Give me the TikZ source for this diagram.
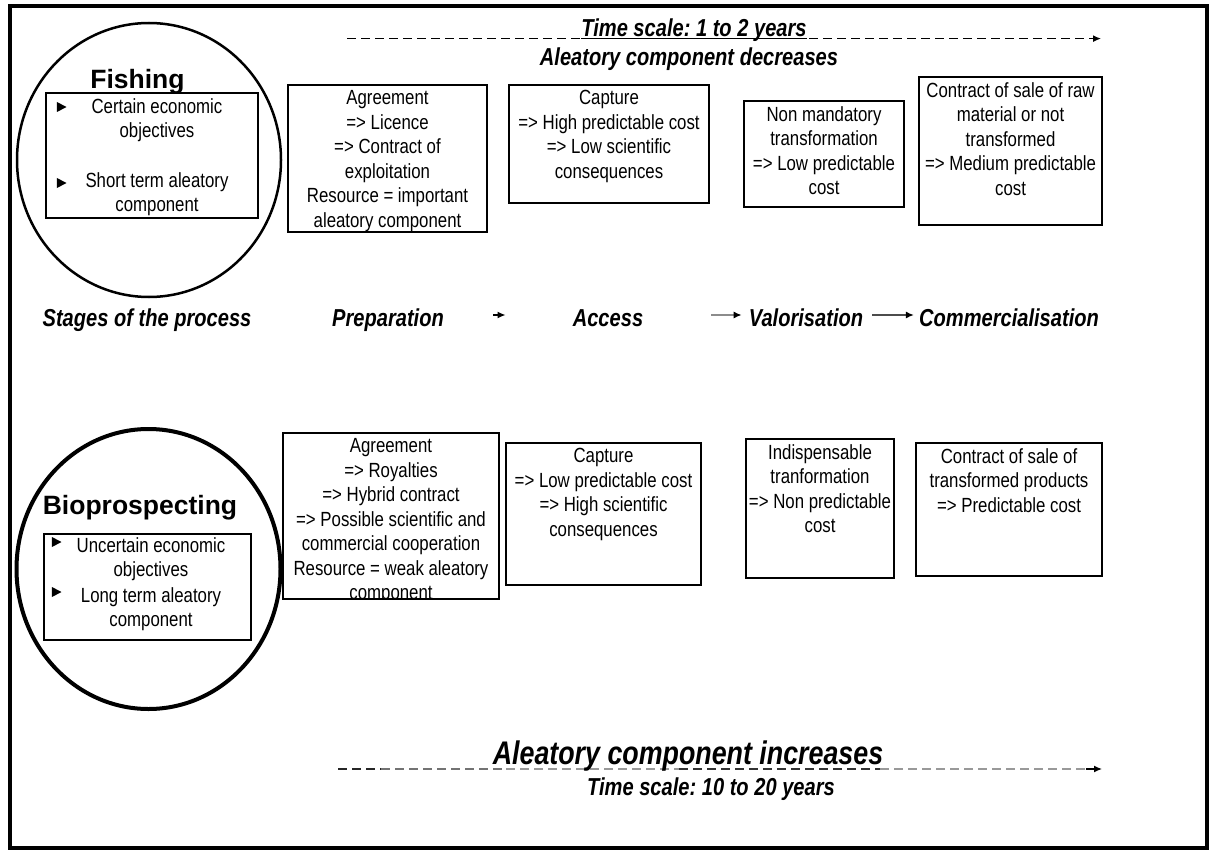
\documentclass[tikz,border=0pt]{standalone}
\usepackage{fontspec}
\setmainfont{Liberation Sans}[FakeStretch=0.82]
\newfontfamily\titlefont{Liberation Sans}
\usetikzlibrary{shapes.geometric, arrows.meta}
\frenchspacing

\begin{document}
\begin{tikzpicture}[
                x = 1pt, y = -1pt,
                box/.style = {draw, line width = 1.3pt, inner sep = 0pt},
                boxtext/.style = {anchor = north, yshift = -6pt, align = center, inner sep = 0pt,
                    font = \fontsize{20.5}{24.5}\selectfont, execute at begin node = \strut},
                circ/.style = {draw, ellipse, inner sep = 0pt},
                title/.style = {font = \titlefont\bfseries\fontsize{26.5}{30}\selectfont,
                    inner sep = 0pt, text height = 19pt, text depth = 0pt},
                stage/.style = {font = \bfseries\itshape\fontsize{24.5}{28}\selectfont,
                    inner sep = 0pt, text height = 17.5pt, text depth = 0pt},
                bigstage/.style = {font = \bfseries\itshape\fontsize{32.7}{36}\selectfont,
                    inner sep = 0pt, text height = 23.4pt, text depth = 0pt},
                bullet/.style = {isosceles triangle, isosceles triangle stretches, fill,
                    inner sep = 0pt, minimum width = 10pt, minimum height = 9.5pt},
                arr/.style = {draw, line width = 1.5pt, -{Latex[length = 8pt, width = 7pt, color = black]}},
                timeline/.style = {arr, line width = 1.3pt, dash pattern = on 9pt off 5pt},
            ]
            \useasboundingbox (0, 0) rectangle (1214, 853);
            \draw[line width = 3.8pt] (10, 6) rectangle (1207, 848);

            \node (C1) at (149, 160) [circ, line width = 2.5pt, minimum width = 264pt, minimum height = 274pt] {};
            \node (T1) at (137.5, 79) [title] {Fishing};
            \node (L1) at (152, 155.5) [box, minimum width = 212pt, minimum height = 125pt] {};
            \node (L1a) at (157, 96.2) [boxtext, yshift = 4pt] {Certain economic\\objectives};
            \node (L1b) at (157, 170.2) [boxtext, yshift = 4pt] {Short term aleatory\\component};
            \node (P1) at (60, 107) [bullet] {};
            \node (P2) at (60, 183) [bullet] {};

            \node (C2) at (148.5, 569) [circ, line width = 4pt, minimum width = 264pt, minimum height = 280pt] {};
            \node (T2) at (140, 505) [title] {Bioprospecting};
            \node (L2) at (147.5, 587) [box, minimum width = 207pt, minimum height = 106pt] {};
            \node (L2a) at (151, 535.2) [boxtext, yshift = 4pt] {Uncertain economic\\objectives};
            \node (L2b) at (151, 585.2) [boxtext, yshift = 4pt] {Long term aleatory\\component};
            \node (P3) at (55, 542) [bullet] {};
            \node (P4) at (55, 592) [bullet] {};

            \node (F1) at (387.5, 158.5) [box, minimum width = 199pt, minimum height = 147pt] {};
            \node (F2) at (609, 144) [box, minimum width = 200pt, minimum height = 118pt] {};
            \node (F3) at (824, 154) [box, minimum width = 160pt, minimum height = 106pt] {};
            \node (F4) at (1010.5, 151) [box, minimum width = 183pt, minimum height = 148pt] {};
            \node (F1t) at (F1.north) [boxtext] {Agreement\\=> Licence\\=> Contract of\\exploitation\\Resource = important\\aleatory component};
            \node (F2t) at (F2.north) [boxtext] {Capture\\=> High predictable cost\\=> Low scientific\\consequences};
            \node (F3t) at (F3.north) [boxtext] {Non mandatory\\transformation\\=> Low predictable\\cost};
            \node (F4t) at (F4.north) [boxtext] {Contract of sale of raw\\material or not\\transformed\\=> Medium predictable\\cost};

            \node (B1) at (391, 516) [box, minimum width = 216pt, minimum height = 166pt] {};
            \node (B2) at (603.5, 514) [box, minimum width = 195pt, minimum height = 142pt] {};
            \node (B3) at (820, 508.5) [box, minimum width = 148pt, minimum height = 139pt] {};
            \node (B4) at (1009, 509.5) [box, minimum width = 186pt, minimum height = 133pt] {};
            \begin{scope}
                \clip (B1.south west) rectangle (B1.north east);
                \node (B1t) at (B1.north) [boxtext] {Agreement\\=> Royalties\\=> Hybrid contract\\=> Possible scientific and\\commercial cooperation\\Resource = weak aleatory\\component};
            \end{scope}
            \node (B2t) at (B2.north) [boxtext] {Capture\\=> Low predictable cost\\=> High scientific\\consequences};
            \node (B3t) at (B3.north) [boxtext] {Indispensable\\tranformation\\=> Non predictable\\cost};
            \node (B4t) at (B4.north) [boxtext] {Contract of sale of\\transformed products\\=> Predictable cost};

            \node (S0) at (147, 318) [stage] {Stages of the process};
            \node (S1) at (388, 318) [stage] {Preparation};
            \node (S2) at (608, 318) [stage] {Access};
            \node (S3) at (806, 318) [stage] {Valorisation};
            \node (S4) at (1009, 318) [stage] {Commercialisation};
            \path[arr, shorten <= 49pt, shorten >= 67pt] ([yshift = 3pt]S1.east) -- ([yshift = 3pt]S2.west);
            \path[arr, draw = black!45, shorten <= 68pt, shorten >= 7pt] ([yshift = 3pt]S2.east) -- ([yshift = 3pt]S3.west);
            \path[arr, draw = black!70, shorten <= 9pt, shorten >= 5pt] ([yshift = 3pt]S3.east) -- ([yshift = 3pt]S4.west);

            \coordinate (ts) at (347, 38.6);
            \coordinate (te) at (1101, 38.6);
            \path[timeline] (ts) -- (te);
            \node (TS1) at (694, 28) [stage] {Time scale: 1 to 2 years};
            \draw[line width = 1.3pt] ([yshift = -1.9pt]TS1.base west) -- ([yshift = -1.9pt]TS1.base east);
            \node (AL1) at (689, 57) [stage] {Aleatory component decreases};

            \coordinate (b0) at (338, 769);
            \coordinate (b1) at (381, 769);
            \coordinate (b2) at (506, 769);
            \coordinate (b3) at (679, 769);
            \coordinate (b4) at (880, 769);
            \coordinate (b5) at (1086, 769);
            \coordinate (b6) at (1102, 769);
            \foreach \from/\to/\tone in {b0/b1/85, b1/b2/55, b2/b3/40, b3/b4/80, b4/b5/40}
                \draw[line width = 1.3pt, dash pattern = on 9pt off 5pt, black!\tone] (\from) -- (\to);
            \path[timeline] (b5) -- (b6);
            \node (AL2) at (688, 753) [bigstage] {Aleatory component increases};
            \node (TS2) at (711, 787) [stage] {Time scale: 10 to 20 years};
        \end{tikzpicture}
\end{document}
